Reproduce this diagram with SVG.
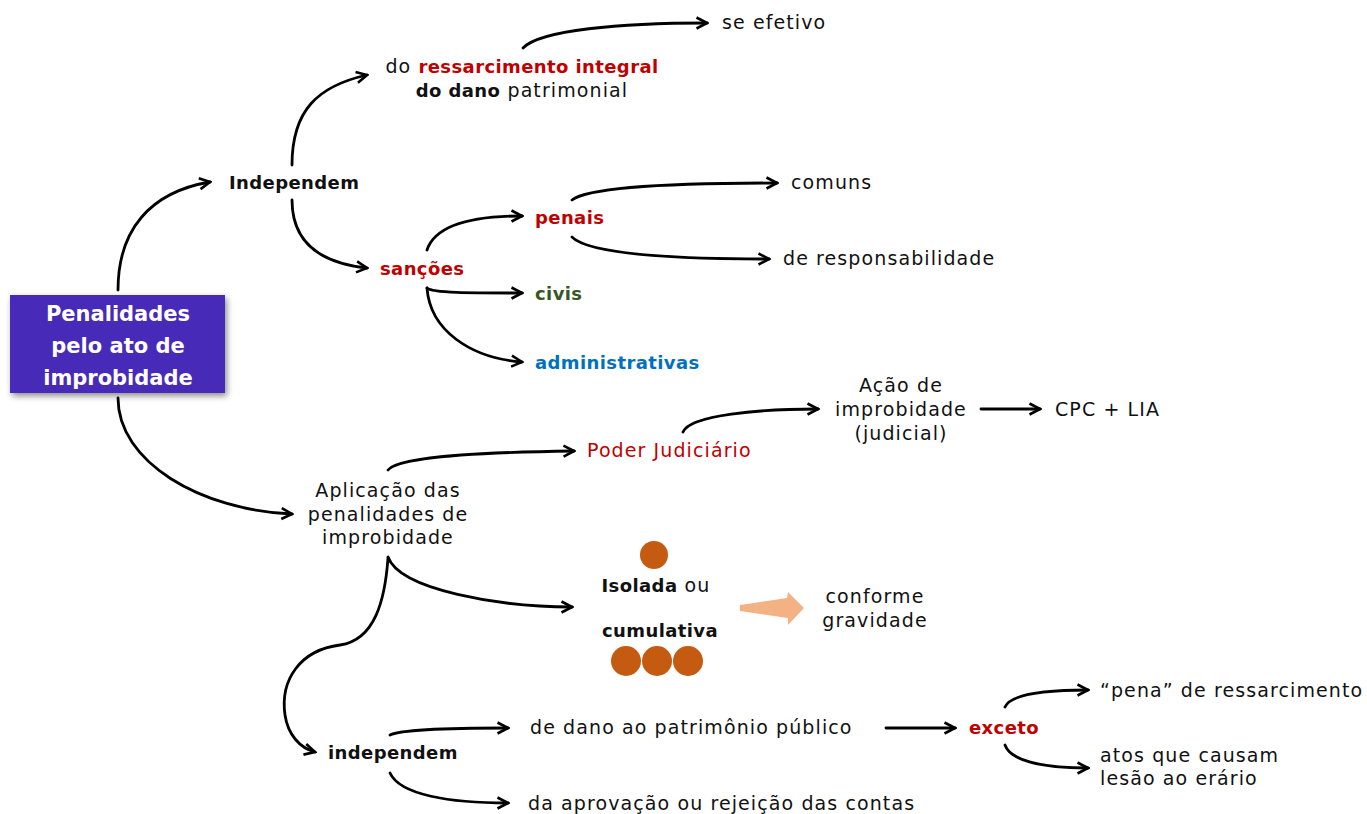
<svg xmlns="http://www.w3.org/2000/svg" width="1367" height="814" viewBox="0 0 1367 814">
<defs>
<marker id="ah" viewBox="0 0 14 14" refX="12" refY="7" markerWidth="14" markerHeight="14" markerUnits="userSpaceOnUse" orient="auto">
<path d="M1.5,1.5 L12,7 L1.5,12.5" fill="none" stroke="#000" stroke-width="2.6" stroke-linejoin="miter"/>
</marker>
<filter id="sh" x="-10%" y="-10%" width="125%" height="130%">
<feGaussianBlur in="SourceAlpha" stdDeviation="3"/>
<feOffset dx="2" dy="3" result="b"/>
<feComponentTransfer><feFuncA type="linear" slope="0.45"/></feComponentTransfer>
<feMerge><feMergeNode/><feMergeNode in="SourceGraphic"/></feMerge>
</filter>
</defs>
<style>
text{font-family:"DejaVu Sans","Liberation Sans",sans-serif;font-size:19px;letter-spacing:1.1px;fill:#111}
.b{font-weight:bold;font-size:18px;letter-spacing:0.4px}
.r{fill:#c00000}
.g{fill:#375623}
.bl{fill:#0070c0}
.c{text-anchor:middle}
.main{fill:#fff;font-weight:bold;font-size:21px;letter-spacing:0;text-anchor:middle}
.cn{fill:none;stroke:#000;stroke-width:2.8;stroke-linecap:round;marker-end:url(#ah)}
.dot{fill:#c55a11}
</style>
<rect width="1367" height="814" fill="#fff"/>
<g id="connectors">
<path class="cn" d="M118,290 C118,230 150,192 210,182"/>
<path class="cn" d="M118,398 C118,462 200,510 292,514"/>
<path class="cn" d="M292,165 C292,110 318,86 367,75"/>
<path class="cn" d="M292,200 C292,242 320,263 367,268"/>
<path class="cn" d="M523,48 C540,30 620,23 707,23"/>
<path class="cn" d="M427,250 C435,226 470,216 522,216"/>
<path class="cn" d="M427,288 C432,293 470,293 522,293"/>
<path class="cn" d="M427,288 C430,330 470,358 522,362"/>
<path class="cn" d="M572,200 C590,186 680,183 777,183"/>
<path class="cn" d="M572,237 C590,255 680,259 769,259"/>
<path class="cn" d="M388,470 C400,455 500,452 574,451"/>
<path class="cn" d="M683,432 C690,415 760,409 818,409"/>
<path class="cn" d="M981,409 L1040,409"/>
<path class="cn" d="M388,557 C400,590 500,607 572,607"/>
<path class="cn" d="M388,558 C385,600 375,640 340,645 C300,650 280,680 285,715 C288,735 300,748 315,752"/>
<path class="cn" d="M390,735 C400,730 450,728 508,728"/>
<path class="cn" d="M390,773 C400,795 450,803 508,803"/>
<path class="cn" d="M886,728 L955,728"/>
<path class="cn" d="M1005,707 C1010,695 1040,690 1088,690"/>
<path class="cn" d="M1005,745 C1010,760 1040,768 1088,768"/>
<polygon fill="#f4b183" points="740,605 787,598 788,592 804,608 788,625 788,618 740,611"/>
</g>
<g id="n-main">
<rect x="10" y="295" width="215" height="98" fill="#472ab7" filter="url(#sh)"/>
<text class="main" x="118" y="321">Penalidades</text>
<text class="main" x="118" y="353">pelo ato de</text>
<text class="main" x="118" y="385">improbidade</text>
</g>
<g id="n-independem1"><text class="b" x="229" y="189">Independem</text></g>
<g id="n-ressarcimento">
<text class="c" x="522" y="73">do <tspan class="b r">ressarcimento integral</tspan></text>
<text class="c" x="522" y="97"><tspan class="b">do dano</tspan> patrimonial</text>
</g>
<g id="n-seefetivo"><text x="722" y="29">se efetivo</text></g>
<g id="n-sancoes"><text class="b r" x="380" y="275">sanções</text></g>
<g id="n-penais"><text class="b r" x="535" y="224">penais</text></g>
<g id="n-civis"><text class="b g" x="535" y="300">civis</text></g>
<g id="n-admin"><text class="b bl" x="535" y="369">administrativas</text></g>
<g id="n-comuns"><text x="791" y="189">comuns</text></g>
<g id="n-resp"><text x="783" y="265">de responsabilidade</text></g>
<g id="n-acao">
<text class="c" x="901" y="392">Ação de</text>
<text class="c" x="901" y="416">improbidade</text>
<text class="c" x="901" y="440">(judicial)</text>
</g>
<g id="n-cpc"><text x="1055" y="416">CPC + LIA</text></g>
<g id="n-poder"><text class="r" x="587" y="457">Poder Judiciário</text></g>
<g id="n-aplicacao">
<text class="c" x="388" y="497">Aplicação das</text>
<text class="c" x="388" y="521">penalidades de</text>
<text class="c" x="388" y="544">improbidade</text>
</g>
<g id="n-isolada">
<circle class="dot" cx="654" cy="555" r="14"/>
<text class="c" x="656" y="592"><tspan class="b">Isolada</tspan> ou</text>
<text class="c b" x="660" y="637">cumulativa</text>
<circle class="dot" cx="626" cy="661" r="15"/>
<circle class="dot" cx="657" cy="661" r="15"/>
<circle class="dot" cx="688" cy="661" r="15"/>
</g>
<g id="n-conforme">
<text class="c" x="875" y="603">conforme</text>
<text class="c" x="875" y="627">gravidade</text>
</g>
<g id="n-independem2"><text class="b" x="328" y="759">independem</text></g>
<g id="n-dano"><text x="530" y="734">de dano ao patrimônio público</text></g>
<g id="n-aprovacao"><text x="528" y="810">da aprovação ou rejeição das contas</text></g>
<g id="n-exceto"><text class="b r" x="969" y="734">exceto</text></g>
<g id="n-pena"><text x="1100" y="697">“pena” de ressarcimento</text></g>
<g id="n-atos">
<text x="1100" y="762">atos que causam</text>
<text x="1100" y="785">lesão ao erário</text>
</g>
</svg>
